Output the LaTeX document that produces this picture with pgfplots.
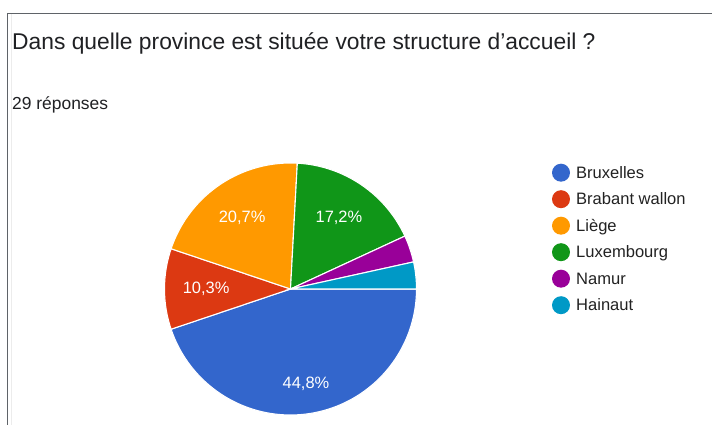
\documentclass[border=0pt]{standalone}
\usepackage{pgfplots}
\pgfplotsset{compat=1.18}
\usepackage{fontspec}
\setmainfont{Liberation Sans}
\definecolor{cBru}{HTML}{3366CC}
\definecolor{cBra}{HTML}{DC3912}
\definecolor{cLie}{HTML}{FF9900}
\definecolor{cLux}{HTML}{109618}
\definecolor{cNam}{HTML}{990099}
\definecolor{cHai}{HTML}{0099C6}
\definecolor{txt}{HTML}{202124}
\definecolor{legtxt}{HTML}{222222}
\definecolor{frame}{HTML}{5F6368}

% total number of answers
\def\total{29}
% \slice{cumulative start}{count}{colour}{label}{label radius}
\newcommand\slice[5]{%
  \pgfmathsetmacro\sa{-360*(#1+#2)/\total}%
  \pgfmathsetmacro\sb{-360*(#1)/\total}%
  \addplot[fill=#3, draw=white, line width=1.1bp, domain=\sa:\sb, samples=120]
    ({cos(x)},{sin(x)}) -- (axis cs:0,0) -- cycle;
  \pgfmathsetmacro\mid{-360*(#1+#2/2)/\total}%
  \pgfmathsetmacro\lx{#5*cos(\mid)}%
  \pgfmathsetmacro\ly{#5*sin(\mid)}%
  \ifx&#4&\else
  \edef\temp{\noexpand\node[text=white, font=\noexpand\fontsize{16.5}{18}\noexpand\selectfont, inner sep=0pt] at (axis cs:\lx,\ly) {#4};}%
  \temp
  \fi
}

\begin{document}
\begin{tikzpicture}
\path[use as bounding box] (0,0) rectangle (712bp,425bp);
\fill[white] (0,0) rectangle (712bp,425bp);
% card frame
\draw[frame, line width=1bp] (7.5bp,0) -- (7.5bp,411.7bp) -- (712bp,411.7bp);
\draw[gray!15, line width=1.5bp] (11.5bp,0) -- (11.5bp,410.5bp);

\node[anchor=base west, inner sep=0pt, text=txt, font=\fontsize{22.9}{26}\selectfont]
  at (12bp,375bp) {Dans quelle province est située votre structure d’accueil ?};
\node[anchor=base west, inner sep=0pt, text=txt, font=\fontsize{17.5}{20}\selectfont]
  at (12bp,315bp) {29 réponses};

\begin{axis}[
  at={(290.5bp,136bp)}, anchor=center,
  x=126bp, y=126bp,
  xmin=-1, xmax=1, ymin=-1, ymax=1,
  hide axis, clip=false,
]
\slice{0}{13}{cBru}{44,8\%}{0.76}
\slice{13}{3}{cBra}{10,3\%}{0.67}
\slice{16}{6}{cLie}{20,7\%}{0.685}
\slice{22}{5}{cLux}{17,2\%}{0.685}
\slice{27}{1}{cNam}{}{0.7}
\slice{28}{1}{cHai}{}{0.7}
\end{axis}

% legend
\foreach \c/\t [count=\i from 0] in {cBru/Bruxelles, cBra/Brabant wallon, cLie/Liège, cLux/Luxembourg, cNam/Namur, cHai/Hainaut}{
  \pgfmathsetmacro\yy{252.3-26.5*\i}
  \fill[\c] (561bp,\yy bp) circle (9bp);
  \node[anchor=base west, inner sep=0pt, text=legtxt, font=\fontsize{16.6}{19}\selectfont]
    at (576bp,\yy bp-5.8bp) {\t};
}
\end{tikzpicture}
\end{document}
